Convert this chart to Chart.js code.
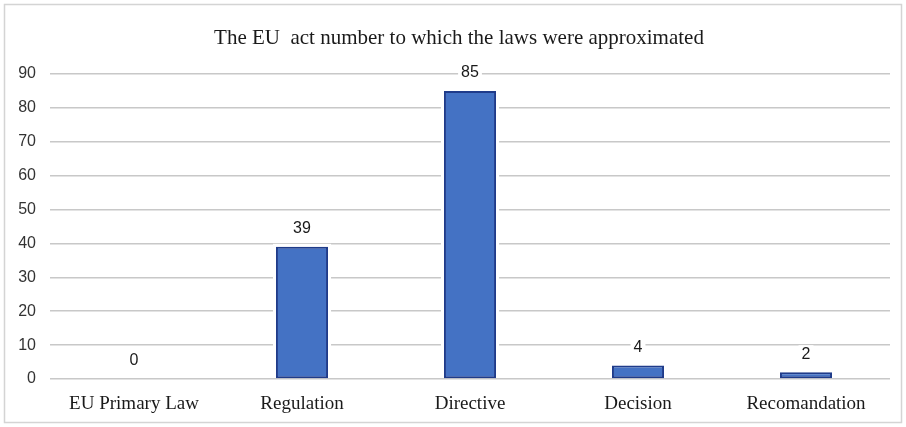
<!DOCTYPE html>
<html>
<head>
<meta charset="utf-8">
<title>EU acts</title>
<script src="https://cdn.jsdelivr.net/npm/chart.js@4.4.1/dist/chart.umd.min.js"></script>
<style>
  html, body { margin: 0; padding: 0; background: #fff; }
  #wrap { width: 906px; height: 427px; }
</style>
</head>
<body>
<div id="wrap"><canvas id="chart" width="906" height="427"></canvas></div>
<script>
const chartTitle = 'The EU  act number to which the laws were approximated';
const categories = ['EU Primary Law', 'Regulation', 'Directive', 'Decision', 'Recomandation'];
const actCounts = [0, 39, 85, 4, 2];
const yTicks = [0, 10, 20, 30, 40, 50, 60, 70, 80, 90];

// light frame around the whole chart, plus the title centred on the canvas
const framePlugin = {
  id: 'frame',
  beforeDraw(chart) {
    const ctx = chart.ctx;
    ctx.save();
    ctx.fillStyle = '#fff';
    ctx.fillRect(0, 0, chart.width, chart.height);
    ctx.strokeStyle = '#d4d4d4';
    ctx.lineWidth = 1.5;
    ctx.strokeRect(4.5, 4.5, chart.width - 9, chart.height - 9);
    ctx.font = '21px "Liberation Serif", "Times New Roman", serif';
    ctx.fillStyle = '#1a1a1a';
    ctx.textAlign = 'center';
    ctx.textBaseline = 'middle';
    ctx.fillText(chartTitle, chart.width / 2 + 6, 38);
    ctx.restore();
  }
};

// white halo around bars so gridlines stop short of them
const barGapPlugin = {
  id: 'barGap',
  beforeDatasetsDraw(chart) {
    const ctx = chart.ctx;
    ctx.save();
    ctx.fillStyle = '#fff';
    chart.getDatasetMeta(0).data.forEach(bar => {
      const w = bar.width;
      const top = Math.min(bar.y, bar.base);
      const h = Math.abs(bar.base - bar.y);
      if (h > 0) ctx.fillRect(bar.x - w / 2 - 3, top - 3, w + 6, h + 2);
    });
    ctx.restore();
  }
};

// value labels above each bar, on a white patch
const valueLabels = {
  id: 'valueLabels',
  afterDatasetsDraw(chart) {
    const ctx = chart.ctx;
    ctx.save();
    ctx.font = '16px "Liberation Sans", Arial, sans-serif';
    ctx.textAlign = 'center';
    ctx.textBaseline = 'middle';
    chart.getDatasetMeta(0).data.forEach((bar, i) => {
      const txt = String(actCounts[i]);
      const y = bar.y - 18;
      const w = ctx.measureText(txt).width;
      ctx.fillStyle = '#fff';
      ctx.fillRect(bar.x - w / 2 - 3, y - 9, w + 6, 18);
      ctx.fillStyle = '#1a1a1a';
      ctx.fillText(txt, bar.x, y);
    });
    ctx.restore();
  }
};

new Chart(document.getElementById('chart'), {
  type: 'bar',
  data: {
    labels: categories,
    datasets: [{
      data: actCounts,
      backgroundColor: '#4472c4',
      borderColor: '#1f3b8a',
      borderWidth: 2,
      borderSkipped: false,
      categoryPercentage: 1,
      barPercentage: 0.31
    }]
  },
  options: {
    responsive: false,
    animation: false,
    devicePixelRatio: 1,
    layout: { padding: { left: 6, right: 16, top: 74, bottom: 8 } },
    plugins: {
      legend: { display: false },
      tooltip: { enabled: false },
      title: { display: false }
    },
    scales: {
      x: {
        grid: { display: false, drawTicks: false },
        border: { display: false },
        ticks: {
          color: '#1a1a1a',
          font: { family: '"Liberation Serif", "Times New Roman", serif', size: 19 },
          padding: 14
        },
        afterFit(scale) { scale.height = 40; }
      },
      y: {
        min: 0,
        max: 90,
        afterBuildTicks(scale) { scale.ticks = yTicks.map(v => ({ value: v })); },
        grid: { color: '#c8c8c8', lineWidth: 1.5, drawTicks: false },
        border: { display: false },
        ticks: {
          color: '#333',
          font: { family: '"Liberation Sans", Arial, sans-serif', size: 16 },
          padding: 14
        },
        afterFit(scale) { scale.width = 44; }
      }
    }
  },
  plugins: [framePlugin, barGapPlugin, valueLabels]
});
</script>
</body>
</html>
